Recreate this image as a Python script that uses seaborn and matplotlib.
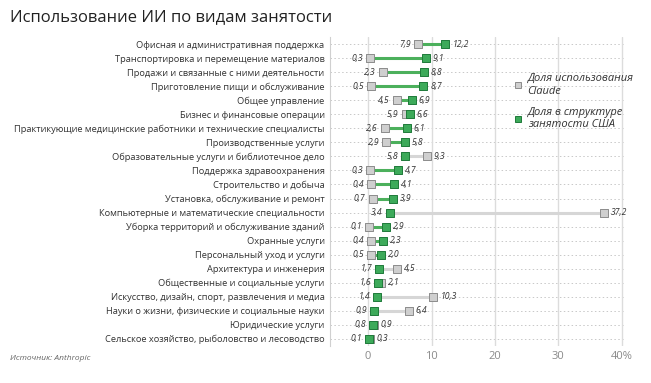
import numpy as np
import pandas as pd
import matplotlib
matplotlib.use("Agg")
import matplotlib.pyplot as plt
from matplotlib.lines import Line2D
import seaborn as sns

## Data
categories = [
    "Офисная и административная поддержка",
    "Транспортировка и перемещение материалов",
    "Продажи и связанные с ними деятельности",
    "Приготовление пищи и обслуживание",
    "Общее управление",
    "Бизнес и финансовые операции",
    "Практикующие медицинские работники и технические специалисты",
    "Производственные услуги",
    "Образовательные услуги и библиотечное дело",
    "Поддержка здравоохранения",
    "Строительство и добыча",
    "Установка, обслуживание и ремонт",
    "Компьютерные и математические специальности",
    "Уборка территорий и обслуживание зданий",
    "Охранные услуги",
    "Персональный уход и услуги",
    "Архитектура и инженерия",
    "Общественные и социальные услуги",
    "Искусство, дизайн, спорт, развлечения и медиа",
    "Науки о жизни, физические и социальные науки",
    "Юридические услуги",
    "Сельское хозяйство, рыболовство и лесоводство",
]
claude_share = [7.9, 0.3, 2.3, 0.5, 4.5, 5.9, 2.6, 2.9, 9.3, 0.3, 0.4,
                0.7, 37.2, 0.1, 0.4, 0.5, 4.5, 2.1, 10.3, 6.4, 0.9, 0.3]
us_employment = [12.2, 9.1, 8.8, 8.7, 6.9, 6.6, 6.1, 5.8, 5.8, 4.7, 4.1,
                 3.9, 3.4, 2.9, 2.3, 2.0, 1.7, 1.6, 1.4, 0.9, 0.8, 0.1]
x_ticks = [0, 10, 20, 30, 40]
x_tick_labels = ["0", "10", "20", "30", "40%"]

GREEN = "#3daa5a"
GREEN_EDGE = "#1f7a3a"
GREEN_LINE = "#4cb05c"
GRAY = "#cfcfcf"
GRAY_EDGE = "#8c8c8c"
GRAY_LINE = "#d6d6d6"
TXT = "#333333"

sns.set_theme(style="white")
plt.rcParams["font.family"] = ["Open Sans", "DejaVu Sans"]

df = pd.DataFrame({"cat": categories, "claude": claude_share, "emp": us_employment})
df["pos"] = np.arange(len(df))

fig = plt.figure(figsize=(6.51, 3.83), dpi=100)
ax = fig.add_axes([0.507, 0.097, 0.451, 0.806])

# grid
for p in df["pos"]:
    ax.plot([-6, 40.3], [p, p], color="#c8c8c8", lw=0.7, ls=(0, (1.5, 2.5)), zorder=0)
for t in x_ticks:
    ax.axvline(t, color="#dcdcdc", lw=1.0, zorder=0)

# connecting lines
for _, r in df.iterrows():
    col = GREEN_LINE if r["emp"] > r["claude"] else GRAY_LINE
    ax.plot([r["claude"], r["emp"]], [r["pos"], r["pos"]], color=col, lw=2.2,
            solid_capstyle="butt", zorder=1)

sns.scatterplot(data=df, x="claude", y="pos", marker="s", s=28, color=GRAY,
                edgecolor=GRAY_EDGE, linewidth=0.7, zorder=3, ax=ax)
sns.scatterplot(data=df, x="emp", y="pos", marker="s", s=28, color=GREEN,
                edgecolor=GREEN_EDGE, linewidth=0.7, zorder=4, ax=ax)

def fmt(v):
    return f"{v:.1f}".replace(".", ",")

for _, r in df.iterrows():
    lo, hi = sorted([r["claude"], r["emp"]])
    ax.annotate(fmt(lo), (lo, r["pos"]), xytext=(-5, 0), textcoords="offset points",
                ha="right", va="center", fontsize=6.2, style="italic", color=TXT)
    ax.annotate(fmt(hi), (hi, r["pos"]), xytext=(5, 0), textcoords="offset points",
                ha="left", va="center", fontsize=6.2, style="italic", color=TXT)

ax.set_xlim(-6, 40.3)
ax.set_ylim(len(df) - 0.5, -0.5)
ax.set_yticks(df["pos"])
ax.set_yticklabels(categories, fontsize=6.7, color=TXT)
ax.set_xticks(x_ticks)
ax.set_xticklabels(x_tick_labels, fontsize=8, color="#8a8a8a")
ax.tick_params(axis="y", length=0, pad=4)
ax.tick_params(axis="x", length=0, pad=4)
ax.set_xlabel("")
ax.set_ylabel("")
for s in ["top", "right", "bottom"]:
    ax.spines[s].set_visible(False)
ax.spines["left"].set_color("#d0d0d0")
ax.spines["left"].set_linewidth(0.8)

handles = [
    Line2D([], [], marker="s", ls="", markersize=5, markerfacecolor=GRAY,
           markeredgecolor=GRAY_EDGE, markeredgewidth=0.7),
    Line2D([], [], marker="s", ls="", markersize=5, markerfacecolor=GREEN,
           markeredgecolor=GREEN_EDGE, markeredgewidth=0.7),
]
leg = fig.legend(handles, ["Доля использования\nClaude", "Доля в структуре\nзанятости США"],
                 loc="upper left", bbox_to_anchor=(0.773, 0.835), frameon=False,
                 prop={"size": 8, "style": "italic"}, handlelength=0.8,
                 handletextpad=0.5, labelspacing=0.9, labelcolor=TXT)

fig.text(0.015, 0.955, "Использование ИИ по видам занятости", fontsize=12,
         color="#222222", va="center", ha="left")
fig.text(0.015, 0.065, "Источник: Anthropic", fontsize=6, style="italic",
         color="#666666", va="center", ha="left")

fig.savefig("out.png", dpi=100)
